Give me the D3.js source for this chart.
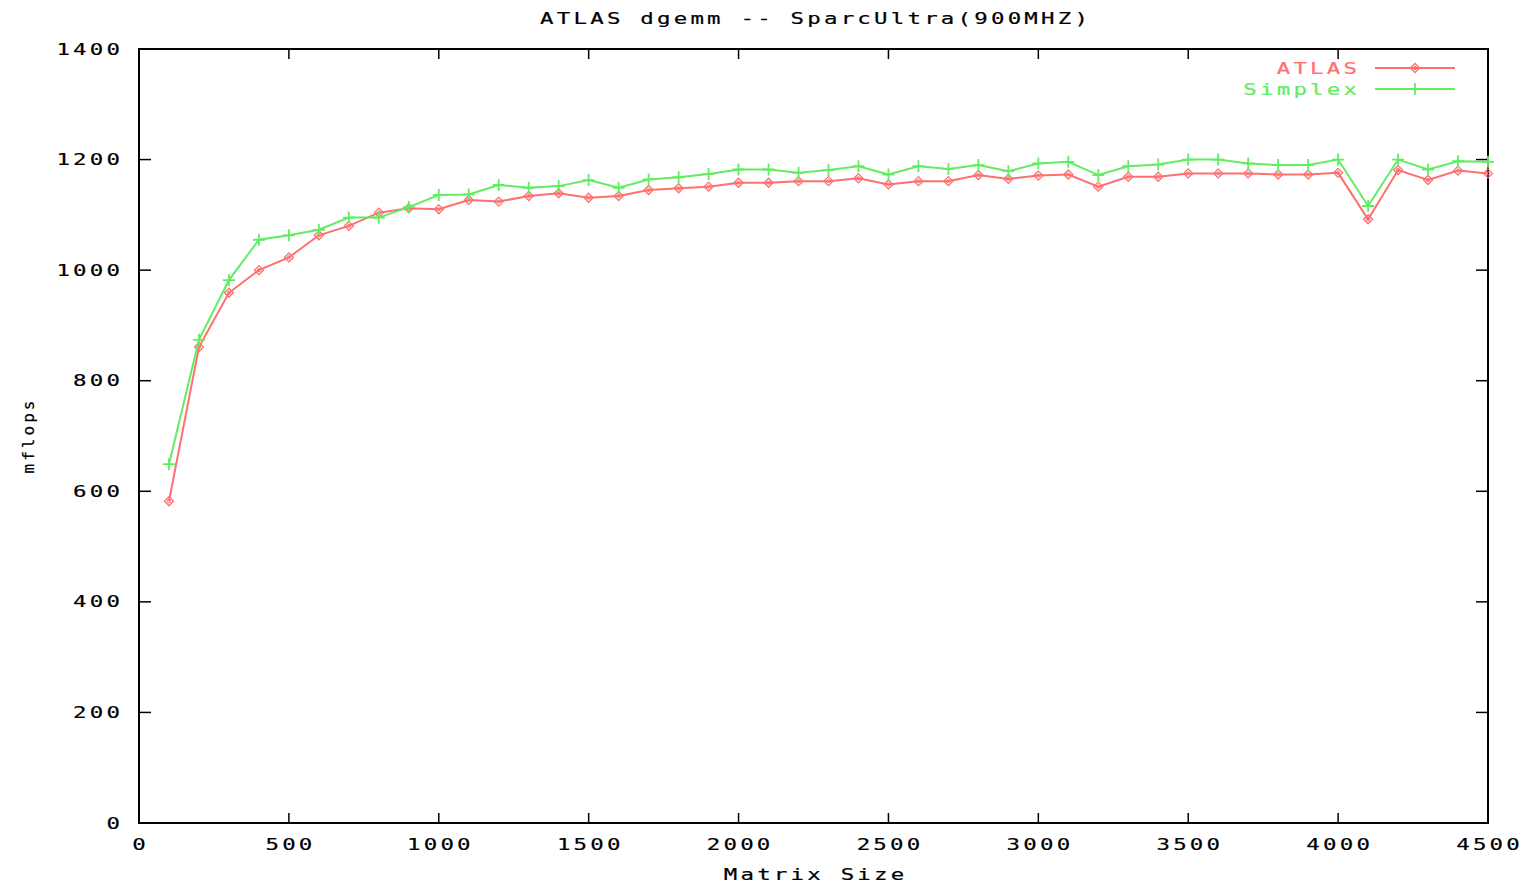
<!DOCTYPE html>
<html>
<head>
<meta charset="utf-8">
<script src="https://cdn.jsdelivr.net/npm/d3@7"></script>
<style>
  body { margin: 0; background: #fff; }
  svg text { font-family: "DejaVu Sans Mono", monospace; }
</style>
</head>
<body>
<svg id="chart" width="1526" height="884"></svg>
<script>
// matrix sizes 100..4500
const sizes = [100,200,300,400,500,600,700,800,900,1000,1100,1200,1300,1400,1500,1600,1700,1800,1900,2000,2100,2200,2300,2400,2500,2600,2700,2800,2900,3000,3100,3200,3300,3400,3500,3600,3700,3800,3900,4000,4100,4200,4300,4400,4500];
const atlas = [582,861,959,1000,1023,1063,1080,1104,1112,1110,1127,1124,1134,1139,1131,1134,1145,1148,1151,1158,1158,1161,1161,1166,1155,1161,1161,1172,1165,1171,1173,1151,1169,1169,1175,1175,1175,1173,1173,1176,1092,1181,1163,1180,1175];
const simplex = [649,874,982,1055,1063,1073,1095,1095,1114,1136,1137,1154,1149,1152,1163,1149,1164,1168,1174,1182,1182,1176,1181,1188,1173,1188,1183,1190,1179,1193,1196,1172,1188,1191,1200,1200,1193,1190,1190,1200,1116,1200,1182,1197,1196];
const xTicks = [0,500,1000,1500,2000,2500,3000,3500,4000,4500];
const yTicks = [0,200,400,600,800,1000,1200,1400];

const svg = d3.select("#chart");
const margin = { top: 49, right: 38, bottom: 61, left: 139 },
      width = 1526 - margin.left - margin.right,
      height = 884 - margin.top - margin.bottom;

const g = svg.append("g").attr("transform", `translate(${margin.left},${margin.top})`);

const x = d3.scaleLinear().domain([0, 4500]).range([0, width]);
const y = d3.scaleLinear().domain([0, 1400]).range([height, 0]);

// wide blocky text, like the gnuplot bitmap font
function label(parent, tx, ty, str, anchor, color = "#000", rot = 0, SX = 1.4, LS = 2.3) {
    const shift = anchor === "end" ? LS * SX : anchor === "middle" ? LS * SX / 2 : 0;
    const grp = parent.append("g")
        .attr("transform", `translate(${tx},${ty}) rotate(${rot}) translate(${shift},0) scale(${SX},1)`);
    grp.append("text")
        .attr("text-anchor", anchor)
        .attr("dy", "0.35em")
        .style("font-size", "16px")
        .style("letter-spacing", LS + "px")
        .style("fill", color)
        .style("stroke", color)
        .style("stroke-width", 0.2)
        .text(str);
}

// ticks (gnuplot style: inward, mirrored)
yTicks.forEach(v => {
    g.append("line").attr("x1", 0).attr("x2", 12).attr("y1", y(v)).attr("y2", y(v)).attr("stroke", "#000").attr("stroke-width", 1.5);
    g.append("line").attr("x1", width).attr("x2", width - 12).attr("y1", y(v)).attr("y2", y(v)).attr("stroke", "#000").attr("stroke-width", 1.5);
    label(g, -19, y(v), String(v), "end");
});
xTicks.forEach(v => {
    g.append("line").attr("x1", x(v)).attr("x2", x(v)).attr("y1", height).attr("y2", height - 10).attr("stroke", "#000").attr("stroke-width", 1.5);
    g.append("line").attr("x1", x(v)).attr("x2", x(v)).attr("y1", 0).attr("y2", 10).attr("stroke", "#000").attr("stroke-width", 1.5);
    label(g, x(v), height + 21, String(v), "middle");
});

// frame
g.append("rect").attr("width", width).attr("height", height)
    .attr("fill", "none").attr("stroke", "#000").attr("stroke-width", 2);

const series = [
    { name: "ATLAS", values: atlas, color: "#ff6f6f", mark: "diamond" },
    { name: "Simplex", values: simplex, color: "#62ec62", mark: "plus" }
];

function drawMark(sel, cx, cy, s) {
    if (s.mark === "diamond") {
        sel.append("path")
            .attr("d", `M${cx},${cy - 4.5}L${cx + 4.5},${cy}L${cx},${cy + 4.5}L${cx - 4.5},${cy}Z`)
            .attr("fill", "none").attr("stroke", s.color).attr("stroke-width", 1.3);
        sel.append("circle").attr("cx", cx).attr("cy", cy).attr("r", 1.6)
            .attr("fill", "none").attr("stroke", s.color).attr("stroke-width", 1);
    } else {
        sel.append("path")
            .attr("d", `M${cx - 6},${cy}H${cx + 6}M${cx},${cy - 6}V${cy + 6}`)
            .attr("stroke", s.color).attr("stroke-width", 1.8);
    }
}

const line = d3.line().x((d, i) => x(sizes[i])).y(d => y(d));

series.forEach(s => {
    g.append("path").datum(s.values)
        .attr("d", line)
        .attr("fill", "none").attr("stroke", s.color).attr("stroke-width", 2);
    s.values.forEach((v, i) => drawMark(g, x(sizes[i]), y(v), s));
});

// legend
series.forEach((s, i) => {
    const ly = 68 + i * 21;
    label(svg, 1357, ly, s.name, "end", s.color);
    svg.append("line").attr("x1", 1375).attr("x2", 1455).attr("y1", ly).attr("y2", ly)
        .attr("stroke", s.color).attr("stroke-width", 2);
    drawMark(svg, 1415, ly, s);
});

// title and axis labels
label(svg, 814, 18, "ATLAS dgemm -- SparcUltra(900MHZ)", "middle");
label(svg, 814, 874, "Matrix Size", "middle");
label(svg, 28, 437, "mflops", "middle", "#000", -90, 1, 3);
</script>
</body>
</html>
